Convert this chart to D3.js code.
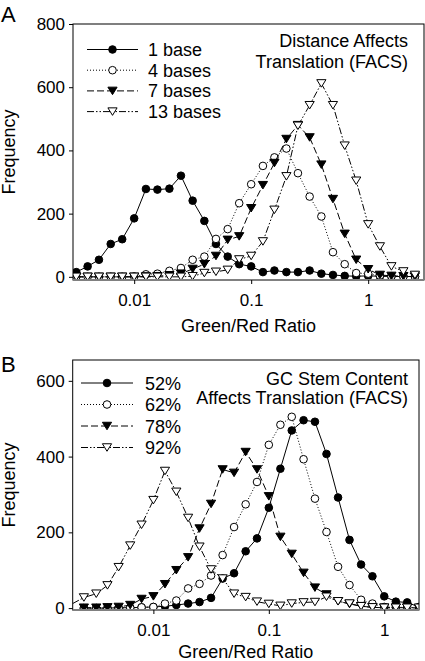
<!DOCTYPE html>
<html><head><meta charset="utf-8">
<script src="https://cdn.jsdelivr.net/npm/d3@7"></script>
<style>body{margin:0;background:#fff}svg{display:block}text{font-family:"Liberation Sans",Arial,sans-serif;fill:#000}</style>
</head><body><svg id="c" width="425" height="661"></svg>
<script>
// ---------- Panel A data ----------
const ratiosA = [0.0032,0.0040,0.0050,0.0063,0.0079,0.010,0.0126,0.0158,0.020,0.0251,0.0316,0.0398,0.050,0.063,0.079,0.10,0.126,0.158,0.20,0.251,0.316,0.398,0.50,0.63,0.79,1.0,1.26,1.58,2.0,2.51];
const base1  = [15,33,54,104,119,185,278,276,279,320,241,177,104,64,40,33,15,20,15,15,20,10,6,3,2,3,2,1,1,1];
const base4  = [0,0,0,0,0,1,8,10,19,28,54,64,120,151,233,293,351,378,406,328,254,191,78,40,12,10,4,2,1,1];
const base7  = [0,0,0,0,0,0,1,2,5,10,25,40,66,117,128,217,290,360,436,480,441,355,246,136,54,24,6,3,2,1];
const base13 = [0,0,0,0,0,0,0,0,0,0,2,12,16,22,55,66,112,212,318,478,543,612,543,415,304,166,96,33,17,6];
const labelsA = ["1 base","4 bases","7 bases","13 bases"];
const titleA = ["Distance Affects","Translation (FACS)"];
const yTicksA = [0,200,400,600,800];

// ---------- Panel B data ----------
const ratiosB = [0.0020,0.0025,0.0032,0.0040,0.0050,0.0063,0.0079,0.010,0.0126,0.0158,0.020,0.0251,0.0316,0.0398,0.050,0.063,0.079,0.10,0.126,0.158,0.20,0.251,0.316,0.398,0.50,0.63,0.79,1.0,1.26,1.58,2.0];
const gc52 = [null,0,0,0,1,1,2,3,5,8,12,16,27,78,92,150,184,265,368,469,496,492,407,292,180,115,84,31,17,15,3];
const gc62 = [null,0,0,0,0,1,2,3,12,20,52,64,86,140,214,274,333,431,484,505,393,289,201,109,61,22,12,3,2,2,1];
const gc78 = [null,1,1,2,3,8,24,31,63,100,134,210,275,366,357,412,366,295,188,143,93,54,36,18,11,5,2,1,1,1,0];
const gc92 = [12,28,38,60,108,165,220,285,362,307,238,162,102,78,38,29,17,11,6,12,15,16,30,18,12,5,2,1,1,1,1];
const labelsB = ["52%","62%","78%","92%"];
const titleB = ["GC Stem Content","Affects Translation (FACS)"];
const yTicksB = [0,200,400,600];

const xTicks = [0.01,0.1,1];
const xLabel = "Green/Red Ratio", yLabel = "Frequency";

const styles = [
  {dash:null, marker:"circle", fill:"#000"},
  {dash:"1,2", marker:"circle", fill:"#fff"},
  {dash:"7,3", marker:"tri", fill:"#000"},
  {dash:"7,2,1.5,2,1.5,2", marker:"tri", fill:"#fff"}
];

const svg = d3.select("#c");
const FS = "18px", TFS = "17px";

function marker(g, type, x, y, fill){
  if(type==="circle"){
    g.append("circle").attr("cx",x).attr("cy",y).attr("r",3.8)
      .attr("fill",fill).attr("stroke","#000").attr("stroke-width",1);
  } else {
    const w=4.6,h=7.5;
    g.append("path").attr("d",`M${x-w},${y-h/2}L${x+w},${y-h/2}L${x},${y+h/2}Z`)
      .attr("fill",fill).attr("stroke","#000").attr("stroke-width",1);
  }
}

function panel(cfg){
  const {x0,x1,y0,y1,xDom,yDom,ratios,series,labels,title,yTicks,letter,letterPos,legend,titlePos,id} = cfg;
  const x = d3.scaleLog().domain(xDom).range([x0,x1]);
  const y = d3.scaleLinear().domain(yDom).range([y1,y0]);
  const g = svg.append("g");
  g.append("defs").append("clipPath").attr("id",id).append("rect")
    .attr("x",x0).attr("y",y0).attr("width",x1-x0).attr("height",y1-y0);

  series.forEach((vals,si)=>{
    const st = styles[si];
    const pts = vals.map((v,i)=>({x:ratios[i],v})).filter(d=>d.v!==null);
    const sg = g.append("g").attr("clip-path",`url(#${id})`);
    sg.append("path").datum(pts)
      .attr("d", d3.line().x(d=>x(d.x)).y(d=>y(d.v)))
      .attr("fill","none").attr("stroke","#000").attr("stroke-width",1)
      .attr("stroke-dasharray", st.dash);
    pts.filter(d=>d.x>xDom[0]*1.01).forEach(d=>marker(sg, st.marker, x(d.x), y(d.v), st.fill));
  });

  g.append("rect").attr("x",x0).attr("y",y0).attr("width",x1-x0).attr("height",y1-y0)
    .attr("fill","none").attr("stroke","#000").attr("stroke-width",1);
  g.append("line").attr("x1",x0).attr("x2",x1).attr("y1",y1).attr("y2",y1)
    .attr("stroke","#808080").attr("stroke-width",2);

  const ya = g.append("g").attr("transform",`translate(${x0},0)`)
    .call(d3.axisLeft(y).tickValues(yTicks).tickSize(4).tickPadding(4).tickFormat(d3.format("d")));
  ya.select(".domain").remove();
  ya.selectAll("text").style("font-size",TFS).style("font-family","Liberation Sans, Arial, sans-serif");
  const xa = g.append("g").attr("transform",`translate(0,${y1})`)
    .call(d3.axisBottom(x).tickValues(xTicks).tickSize(4).tickPadding(10).tickFormat(d=>String(d)));
  xa.select(".domain").remove();
  xa.selectAll("text").style("font-size",TFS).style("font-family","Liberation Sans, Arial, sans-serif");

  g.append("text").attr("x",(x0+x1)/2).attr("y",cfg.xLabelY).attr("text-anchor","middle")
    .style("font-size",FS).text(xLabel);
  g.append("text").attr("transform",`translate(${cfg.yLabelX},${(y0+y1)/2}) rotate(-90)`)
    .attr("text-anchor","middle").style("font-size",FS).text(yLabel);
  g.append("text").attr("x",letterPos[0]).attr("y",letterPos[1]).style("font-size","22px").text(letter);

  labels.forEach((lab,i)=>{
    const ly = legend.y + i*legend.dy;
    const st = styles[i];
    g.append("line").attr("x1",legend.x1).attr("x2",legend.x2).attr("y1",ly).attr("y2",ly)
      .attr("stroke","#000").attr("stroke-width",1).attr("stroke-dasharray",st.dash);
    marker(g, st.marker, (legend.x1+legend.x2)/2, ly, st.fill);
    g.append("text").attr("x",legend.tx).attr("y",ly+6.5).style("font-size",FS).text(lab);
  });
  title.forEach((t,i)=>{
    g.append("text").attr("x",titlePos[0]).attr("y",titlePos[1]+i*titlePos[2])
      .attr("text-anchor","end").style("font-size",FS).text(t);
  });
}

panel({id:"clipA",x0:73,x1:424,y0:24,y1:280,xDom:[0.003,3],yDom:[-10,800],
  ratios:ratiosA,series:[base1,base4,base7,base13],labels:labelsA,title:titleA,yTicks:yTicksA,
  letter:"A",letterPos:[1,22],legend:{x1:87,x2:138,tx:148,y:49.5,dy:20.7},
  titlePos:[408,46.5,21],xLabelY:332,yLabelX:15});

panel({id:"clipB",x0:72.7,x1:419,y0:360,y1:610,xDom:[0.002,2],yDom:[-5,655],
  ratios:ratiosB,series:[gc52,gc62,gc78,gc92],labels:labelsB,title:titleB,yTicks:yTicksB,
  letter:"B",letterPos:[1,372],legend:{x1:81,x2:133,tx:145,y:383,dy:21.5},
  titlePos:[408,385,18.5],xLabelY:658,yLabelX:15});
</script></body></html>
